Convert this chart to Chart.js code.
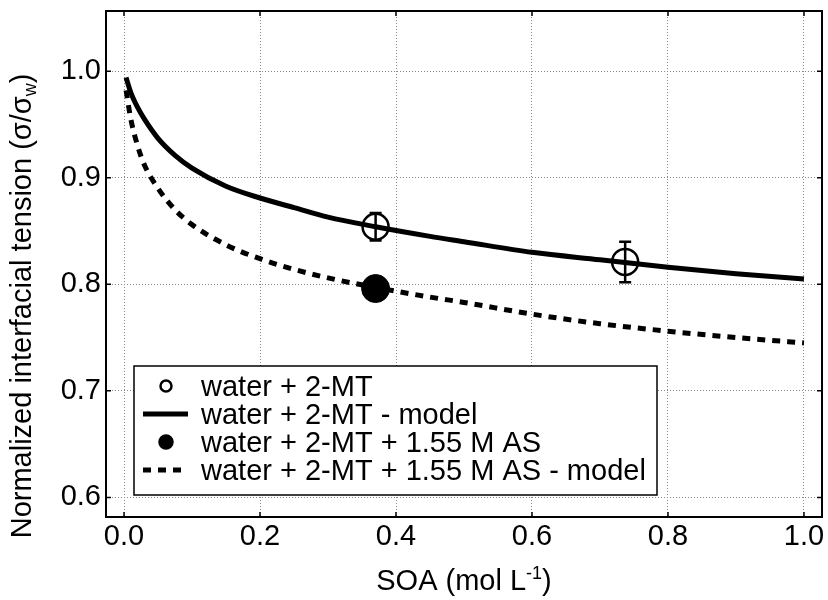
<!DOCTYPE html>
<html>
<head>
<meta charset="utf-8">
<script src="https://cdn.jsdelivr.net/npm/chart.js@4"></script>
<style>
  body { margin: 0; background: #fff; }
  #wrap { width: 828px; height: 600px; }
</style>
</head>
<body>
<div id="wrap"><canvas id="tensionChart" width="828" height="600"></canvas></div>
<script>
// values
const modelX = [0.003, 0.01, 0.02, 0.03, 0.05, 0.075, 0.1, 0.15, 0.2, 0.25, 0.3, 0.37, 0.45, 0.5, 0.6, 0.7, 0.8, 0.9, 1.0];
const waterModel = [0.994, 0.980, 0.966, 0.955, 0.937, 0.921, 0.909, 0.892, 0.881, 0.872, 0.863, 0.854, 0.845, 0.840, 0.830, 0.823, 0.816, 0.810, 0.805];
const asModel = [0.982, 0.955, 0.930, 0.912, 0.890, 0.870, 0.856, 0.837, 0.824, 0.814, 0.806, 0.797, 0.788, 0.783, 0.772, 0.763, 0.756, 0.750, 0.745];
const waterX = [0.37, 0.737];
const waterY = [0.854, 0.821];
const waterErr = [0.013, 0.019];
const asX = [0.37];
const asY = [0.796];
const asErr = [0.008];
const xTicks = [0.0, 0.2, 0.4, 0.6, 0.8, 1.0];
const yTicks = [0.6, 0.7, 0.8, 0.9, 1.0];

const FONT = "'Liberation Sans', Arial, sans-serif";

function pts(xs, ys) {
	return xs.map((x, i) => ({ x: x, y: ys[i] }));
}

const errors = [
	{ xs: waterX, ys: waterY, err: waterErr },
	{ xs: asX, ys: asY, err: asErr },
];

// draws a piece of text followed by a raised/lowered small part and a tail
function mixedText(ctx, cx, base, main, small, shift, tail) {
	ctx.font = "29px " + FONT;
	const w1 = ctx.measureText(main).width;
	const w3 = ctx.measureText(tail).width;
	ctx.font = "18px " + FONT;
	const w2 = ctx.measureText(small).width;
	const sx = cx - (w1 + w2 + w3) / 2;
	ctx.font = "29px " + FONT;
	ctx.fillText(main, sx, base);
	ctx.fillText(tail, sx + w1 + w2, base);
	ctx.font = "18px " + FONT;
	ctx.fillText(small, sx + w1, base + shift);
}

const decorPlugin = {
	id: "decor",
	afterDatasetsDraw(chart) {
		const ctx = chart.ctx;
		const xs = chart.scales.x;
		const ys = chart.scales.y;
		const a = chart.chartArea;
		ctx.save();
		// error bars
		ctx.strokeStyle = "#000";
		ctx.lineWidth = 2.5;
		errors.forEach((e) => {
			e.xs.forEach((x, i) => {
				const px = xs.getPixelForValue(x);
				const top = ys.getPixelForValue(e.ys[i] + e.err[i]);
				const bot = ys.getPixelForValue(e.ys[i] - e.err[i]);
				ctx.beginPath();
				ctx.moveTo(px, top);
				ctx.lineTo(px, bot);
				ctx.moveTo(px - 6, top);
				ctx.lineTo(px + 6, top);
				ctx.moveTo(px - 6, bot);
				ctx.lineTo(px + 6, bot);
				ctx.stroke();
			});
		});
		// frame
		ctx.lineWidth = 2;
		ctx.strokeRect(a.left, a.top, a.right - a.left, a.bottom - a.top);
		// tick marks pointing inward
		ctx.lineWidth = 1.5;
		ctx.beginPath();
		xTicks.forEach((t) => {
			const px = xs.getPixelForValue(t);
			ctx.moveTo(px, a.bottom);
			ctx.lineTo(px, a.bottom - 5);
			ctx.moveTo(px, a.top);
			ctx.lineTo(px, a.top + 5);
		});
		yTicks.forEach((t) => {
			const py = ys.getPixelForValue(t);
			ctx.moveTo(a.left, py);
			ctx.lineTo(a.left + 5, py);
			ctx.moveTo(a.right, py);
			ctx.lineTo(a.right - 5, py);
		});
		ctx.stroke();

		// legend
		const lx = 134, ly = 366, lw = 523, lh = 129;
		ctx.fillStyle = "#fff";
		ctx.fillRect(lx, ly, lw, lh);
		ctx.strokeStyle = "#000";
		ctx.lineWidth = 1.5;
		ctx.strokeRect(lx, ly, lw, lh);
		ctx.font = "29px " + FONT;
		ctx.textBaseline = "alphabetic";
		ctx.textAlign = "left";
		chart.data.datasets.forEach((ds, i) => {
			const cy = ly + 20 + i * 28;
			ctx.strokeStyle = "#000";
			ctx.fillStyle = "#000";
			if (ds.showLine) {
				ctx.lineWidth = ds.borderWidth;
				ctx.setLineDash(ds.borderDash || []);
				ctx.beginPath();
				ctx.moveTo(143, cy);
				ctx.lineTo(188, cy);
				ctx.stroke();
				ctx.setLineDash([]);
			} else {
				ctx.lineWidth = 2.5;
				ctx.beginPath();
				ctx.arc(166, cy, ds.pointBackgroundColor === "#000" ? 6.5 : 5.5, 0, Math.PI * 2);
				if (ds.pointBackgroundColor === "#000") ctx.fill();
				ctx.stroke();
			}
			ctx.fillText(ds.label, 201, cy + 10);
		});

		// axis titles
		ctx.fillStyle = "#000";
		mixedText(ctx, 464, 590, "SOA (mol L", "-1", -11, ")");
		ctx.translate(31, 306);
		ctx.rotate(-Math.PI / 2);
		mixedText(ctx, 0, 0, "Normalized interfacial tension (σ/σ", "w", 5, ")");
		ctx.restore();
	},
};

new Chart(document.getElementById("tensionChart"), {
	type: "scatter",
	data: {
		datasets: [
			{
				label: "water + 2-MT",
				data: pts(waterX, waterY),
				showLine: false,
				pointRadius: 13,
				pointBorderWidth: 2.5,
				pointBorderColor: "#000",
				pointBackgroundColor: "rgba(0,0,0,0)",
			},
			{
				label: "water + 2-MT - model",
				data: pts(modelX, waterModel),
				showLine: true,
				borderColor: "#000",
				borderWidth: 5,
				pointRadius: 0,
				cubicInterpolationMode: "monotone",
			},
			{
				label: "water + 2-MT + 1.55 M AS",
				data: pts(asX, asY),
				showLine: false,
				pointRadius: 14,
				pointBorderWidth: 1,
				pointBorderColor: "#000",
				pointBackgroundColor: "#000",
			},
			{
				label: "water + 2-MT + 1.55 M AS - model",
				data: pts(modelX, asModel),
				showLine: true,
				borderColor: "#000",
				borderWidth: 5,
				borderDash: [8, 7],
				borderCapStyle: "butt",
				pointRadius: 0,
				cubicInterpolationMode: "monotone",
			},
		],
	},
	options: {
		responsive: false,
		animation: false,
		layout: {
			autoPadding: false,
			padding: { top: 11, right: 6, left: 0, bottom: 0 },
		},
		plugins: {
			legend: { display: false },
			tooltip: { enabled: false },
		},
		scales: {
			x: {
				type: "linear",
				min: -0.0265,
				max: 1.0265,
				afterBuildTicks: (s) => {
					s.ticks = xTicks.map((v) => ({ value: v }));
				},
				afterFit: (s) => {
					s.height = 83;
					s.paddingLeft = 0;
					s.paddingRight = 0;
				},
				ticks: {
					color: "#000",
					font: { family: FONT, size: 29 },
					padding: 3,
					maxRotation: 0,
					callback: (v) => v.toFixed(1),
				},
				grid: {
					color: "#888",
					lineWidth: 1,
					drawTicks: false,
				},
				border: { display: false, dash: [1, 2] },
			},
			y: {
				type: "linear",
				min: 0.5816,
				max: 1.0565,
				afterBuildTicks: (s) => {
					s.ticks = yTicks.map((v) => ({ value: v }));
				},
				afterFit: (s) => {
					s.width = 106;
					s.paddingTop = 0;
					s.paddingBottom = 0;
				},
				ticks: {
					color: "#000",
					font: { family: FONT, size: 29 },
					padding: 5,
					callback: (v) => v.toFixed(1),
				},
				grid: {
					color: "#888",
					lineWidth: 1,
					drawTicks: false,
				},
				border: { display: false, dash: [1, 2] },
			},
		},
	},
	plugins: [decorPlugin],
});
</script>
</body>
</html>
